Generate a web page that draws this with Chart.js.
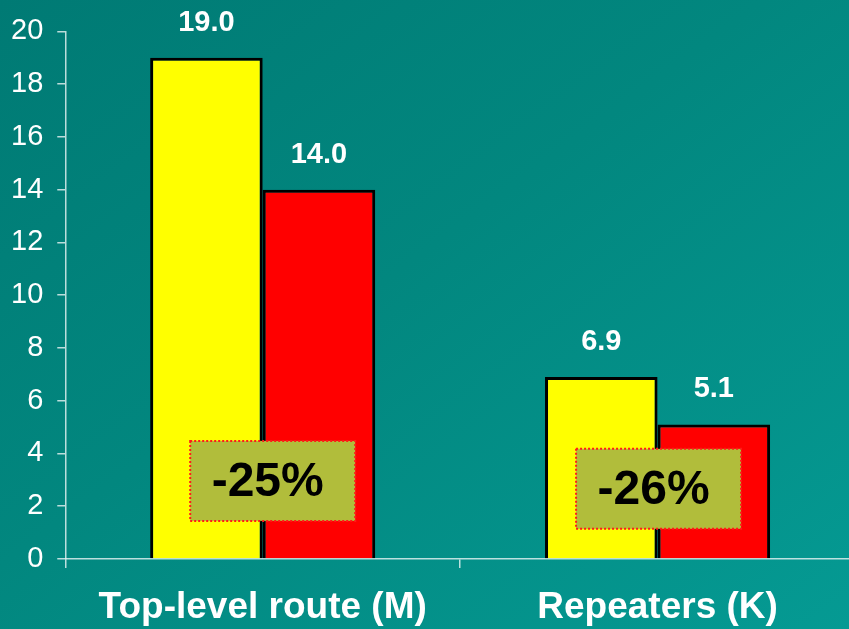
<!DOCTYPE html>
<html>
<head>
<meta charset="utf-8">
<title>Top-level route and repeaters</title>
<script src="https://cdn.jsdelivr.net/npm/chart.js@4/dist/chart.umd.min.js"></script>
<style>
  html, body { margin: 0; padding: 0; overflow: hidden; }
  body {
    width: 849px; height: 629px;
    background: linear-gradient(to bottom right, #007a74 0%, #02877f 45%, #059a93 100%);
  }
  canvas { display: block; margin-left: -3px; }
</style>
</head>
<body>
<canvas id="bar_chart" width="859" height="651"></canvas>
<script>
var categories = ["Top-level route (M)", "Repeaters (K)"];
var before = [19.0, 6.9];
var after = [14.0, 5.1];
var change = ["-25%", "-26%"];
var yTicks = [0, 2, 4, 6, 8, 10, 12, 14, 16, 18, 20];

var axisColor = "rgba(235,245,245,0.8)";

// numbers printed over every bar
var valueLabels = {
  id: "valueLabels",
  afterDatasetsDraw: function (chart) {
    var ctx = chart.ctx;
    ctx.save();
    ctx.fillStyle = "#ffffff";
    ctx.font = "bold 29px 'Liberation Sans', Arial, sans-serif";
    ctx.textAlign = "center";
    ctx.textBaseline = "middle";
    chart.data.datasets.forEach(function (ds, i) {
      chart.getDatasetMeta(i).data.forEach(function (bar, j) {
        ctx.fillText(ds.data[j].toFixed(1), bar.x, bar.y - 35);
      });
    });
    ctx.restore();
  }
};

// olive boxes with the percentage drop, sitting over each pair of bars
var changeBoxes = {
  id: "changeBoxes",
  afterDatasetsDraw: function (chart) {
    var ctx = chart.ctx;
    var xs = chart.scales.x, ys = chart.scales.y;
    var shift = [10, 1];      // px right of the category centre
    var middle = [2.96, 2.66]; // box centre in axis units
    var w = 165, h = 80;
    ctx.save();
    change.forEach(function (txt, i) {
      var cx = xs.getPixelForValue(i) + shift[i];
      var cy = ys.getPixelForValue(middle[i]);
      ctx.fillStyle = "#b1bd3b";
      ctx.fillRect(cx - w / 2, cy - h / 2, w, h);
      ctx.strokeStyle = "#ff1a1a";
      ctx.lineWidth = 2;
      ctx.setLineDash([2, 2]);
      ctx.strokeRect(cx - w / 2, cy - h / 2, w, h);
      ctx.setLineDash([]);
      ctx.fillStyle = "#000000";
      ctx.font = "bold 48px 'Liberation Sans', Arial, sans-serif";
      ctx.textAlign = "center";
      ctx.textBaseline = "middle";
      ctx.fillText(txt, cx - 5, cy + 2);
    });
    ctx.restore();
  }
};

new Chart(document.getElementById("bar_chart"), {
  type: "bar",
  data: {
    labels: categories,
    datasets: [
      {
        data: before,
        backgroundColor: "#ffff00",
        borderColor: "#000000",
        borderWidth: 3,
        categoryPercentage: 0.57,
        barPercentage: 1.0
      },
      {
        data: after,
        backgroundColor: "#ff0000",
        borderColor: "#000000",
        borderWidth: 3,
        categoryPercentage: 0.57,
        barPercentage: 1.0
      }
    ]
  },
  options: {
    responsive: false,
    animation: false,
    layout: { padding: { top: 31, left: 0, right: 1, bottom: 4 } },
    plugins: {
      legend: { display: false },
      tooltip: { enabled: false }
    },
    scales: {
      x: {
        grid: { drawOnChartArea: false, color: axisColor, tickLength: 9, lineWidth: 1.5 },
        border: { color: axisColor, width: 1.5 },
        ticks: {
          color: "#ffffff",
          padding: 21,
          font: { family: "'Liberation Sans', Arial, sans-serif", size: 37, weight: "bold", lineHeight: 1 }
        }
      },
      y: {
        min: 0,
        max: 20,
        afterBuildTicks: function (axis) {
          axis.ticks = yTicks.map(function (v) { return { value: v }; });
        },
        grid: { drawOnChartArea: false, color: axisColor, tickLength: 8, lineWidth: 1.5 },
        border: { color: axisColor, width: 1.5 },
        ticks: {
          color: "#ffffff",
          padding: 14,
          font: { family: "'Liberation Sans', Arial, sans-serif", size: 29 }
        }
      }
    }
  },
  plugins: [valueLabels, changeBoxes]
});
</script>
</body>
</html>
